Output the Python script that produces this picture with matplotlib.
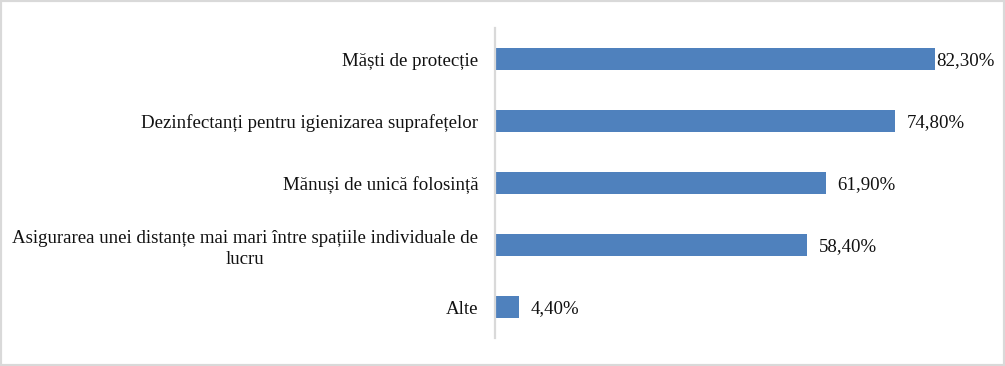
import matplotlib.pyplot as plt
from matplotlib.patches import Rectangle

plt.rcParams['font.family'] = ['Liberation Serif', 'DejaVu Serif']

categories = ["Măști de protecție",
              "Dezinfectanți pentru igienizarea suprafețelor",
              "Mănuși de unică folosință",
              "Asigurarea unei distanțe mai mari între spațiile individuale de\nlucru",
              "Alte"]
values = [82.3, 74.8, 61.9, 58.4, 4.4]
value_labels = ["82,30%", "74,80%", "61,90%", "58,40%", "4,40%"]

fig = plt.figure(figsize=(10.05, 3.66), dpi=100)
ax = fig.add_axes([495 / 1005, 1 - 338 / 366, (976 - 495) / 1005, (338 - 28) / 366])

y = range(len(categories))
ax.barh(y, values, height=0.355, color="#4F81BD")
ax.set_xlim(0, 90)
ax.set_ylim(len(categories) - 0.5, -0.5)

ax.set_yticks(list(y))
ax.set_yticklabels(categories, fontsize=13.6, multialignment="center",
                   linespacing=1.3, color="#111111")
ax.tick_params(axis="y", length=0, pad=12)
ax.set_xticks([])
for s in ["top", "right", "bottom"]:
    ax.spines[s].set_visible(False)
ax.spines["left"].set_color("#D9D9D9")
ax.spines["left"].set_linewidth(1.6)

for i, (v, lab) in enumerate(zip(values, value_labels)):
    off = 1.2 if i == 0 else 8.5
    ax.annotate(lab, (v, i), xytext=(off, -1), textcoords="offset points",
                va="center", ha="left", fontsize=13.6, color="#111111")

fig.patches.append(Rectangle((0, 0), 1, 1, transform=fig.transFigure, fill=False,
                             edgecolor="#D9D9D9", linewidth=3))

fig.savefig("out.png", dpi=100)
